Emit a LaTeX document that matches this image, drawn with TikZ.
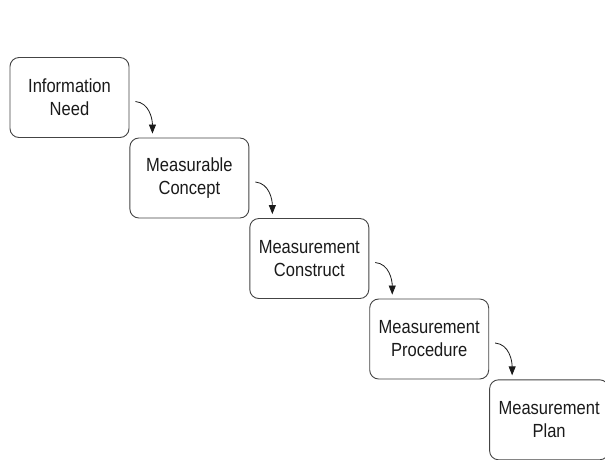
\documentclass[tikz,border=0pt]{standalone}
\usepackage{fontspec}
\setmainfont{Liberation Sans}[FakeStretch=0.87]
\usetikzlibrary{arrows.meta,calc}
\definecolor{boxline}{HTML}{444444}
\definecolor{ink}{HTML}{1A1A1A}
\begin{document}
\begin{tikzpicture}[x=1pt,y=1pt,
  stage/.style={draw=boxline, line width=0.9pt, rounded corners=9pt,
    minimum width=119pt, minimum height=80pt, align=center, text=ink,
    font=\fontsize{19}{23}\selectfont, inner sep=0pt},
  flow/.style={draw=ink, line width=0.8pt, -{Triangle[length=9pt,width=7pt]}}]
  \useasboundingbox (0,0) rectangle (605,-459);
  \clip (0,0) rectangle (605,-459);

  % the five stages, stepping down and to the right
  \node[stage] (need)  at (69.5,-97.5)  {Information\\Need};
  \node[stage] (conc)  at (189.4,-178.0) {Measurable\\Concept};
  \node[stage] (cons)  at (309.3,-258.5) {Measurement\\Construct};
  \node[stage] (proc)  at (429.2,-339.0) {Measurement\\Procedure};
  \node[stage] (plan)  at (549.1,-419.8) {Measurement\\Plan};

  % curved connectors from each stage to the next
  \foreach \a/\b [count=\i] in {need/conc, conc/cons, cons/proc, proc/plan}{
    \coordinate (s\i) at ($(\a.east)+(6,-4)$);
    \coordinate (t\i) at ($(\b.north west)+(23,4)$);
    \draw[flow] (s\i) to[out=-5,in=90] (t\i);
  }
\end{tikzpicture}
\end{document}
